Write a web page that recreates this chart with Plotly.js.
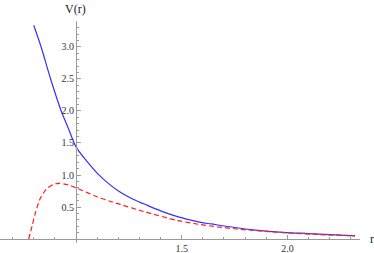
<!DOCTYPE html>
<html>
<head>
<meta charset="utf-8">
<script src="https://cdn.plot.ly/plotly-3.0.1.min.js"></script>
<style>html,body{margin:0;padding:0;background:#fff;}#chart{width:374px;height:253px;}</style>
</head>
<body>
<div id="chart"></div>
<script>
// Solid blue curve V(r)
const blueR = [0.80, 0.835, 0.88, 0.93, 0.965, 1.00, 1.05, 1.10, 1.16, 1.21, 1.27, 1.32, 1.40, 1.48, 1.59, 1.64, 1.75, 1.85, 1.98, 2.10, 2.20, 2.32];
const blueV = [3.34, 3.00, 2.50, 2.00, 1.72, 1.44, 1.22, 1.03, 0.85, 0.73, 0.62, 0.55, 0.44, 0.35, 0.26, 0.235, 0.18, 0.14, 0.105, 0.085, 0.068, 0.05];
// Dashed red curve
const redR = [0.776, 0.792, 0.808, 0.832, 0.863, 0.895, 0.918, 0.96, 1.00, 1.10, 1.16, 1.21, 1.32, 1.48, 1.59, 1.75, 1.98, 2.15, 2.32];
const redV = [0.00, 0.20, 0.41, 0.64, 0.79, 0.855, 0.87, 0.85, 0.80, 0.66, 0.59, 0.54, 0.43, 0.29, 0.225, 0.16, 0.10, 0.07, 0.05];
// Tick labels
const xTicks = [1.5, 2.0];
const xTickText = ["1.5", "2.0"];
const yTicks = [0.5, 1.0, 1.5, 2.0, 2.5, 3.0];
const yTickText = ["0.5", "1.0", "1.5", "2.0", "2.5", "3.0"];

const axisColor = '#9a9a9a';
const serif = '"Liberation Serif", "Times New Roman", serif';
const tickFont = {family: serif, size: 10, color: '#333'};

const traces = [
  {x: blueR, y: blueV, type: 'scatter', mode: 'lines', line: {color: 'rgb(50,50,255)', width: 1.2, shape: 'spline', smoothing: 0.8}, hoverinfo: 'skip'},
  {x: redR, y: redV, type: 'scatter', mode: 'lines', line: {color: 'rgb(255,30,30)', width: 1.2, dash: '5px,3px', shape: 'spline', smoothing: 0.8}, hoverinfo: 'skip'}
];

const layout = {
  width: 374, height: 253,
  margin: {l: 0, r: 14, t: 21, b: 10, pad: 0},
  paper_bgcolor: '#fff', plot_bgcolor: '#fff',
  showlegend: false,
  xaxis: {
    range: [0.6405, 2.3434], showgrid: false, zeroline: false,
    showline: true, linecolor: axisColor, linewidth: 1,
    anchor: 'free', position: 0.018,
    tickmode: 'array', tickvals: xTicks, ticktext: xTickText,
    ticks: 'inside', ticklen: 4, tickcolor: axisColor, tickwidth: 1,
    tickfont: tickFont,
    minor: {tickmode: 'linear', tick0: 0, dtick: 0.1, ticks: 'inside', ticklen: 2, tickcolor: axisColor, showgrid: false}
  },
  yaxis: {
    range: [-0.0625, 3.406], showgrid: false, zeroline: false,
    showline: true, linecolor: axisColor, linewidth: 1,
    anchor: 'free', position: 0.2111,
    tickmode: 'array', tickvals: yTicks, ticktext: yTickText,
    ticks: 'inside', ticklen: 4, tickcolor: axisColor, tickwidth: 1,
    tickfont: tickFont,
    minor: {tickmode: 'linear', tick0: 0, dtick: 0.1, ticks: 'inside', ticklen: 2, tickcolor: axisColor, showgrid: false}
  },
  annotations: [
    {text: 'V(r)', xref: 'paper', yref: 'paper', x: 0.2111, y: 1, xanchor: 'center', yanchor: 'bottom', yshift: 3, showarrow: false,
     font: {family: serif, size: 12, color: '#222'}},
    {text: 'r', xref: 'paper', yref: 'y', x: 1, y: 0, xanchor: 'left', yanchor: 'middle', xshift: 8, showarrow: false,
     font: {family: serif, size: 12, color: '#222'}}
  ]
};

Plotly.newPlot('chart', traces, layout, {staticPlot: true, displayModeBar: false});
</script>
</body>
</html>
